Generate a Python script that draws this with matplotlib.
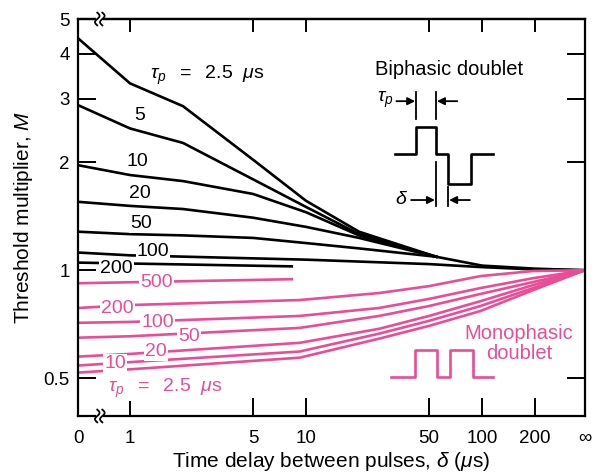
import numpy as np
import matplotlib
matplotlib.use("Agg")
import matplotlib.pyplot as plt
from matplotlib.ticker import NullLocator, FixedLocator, FixedFormatter

plt.rcParams['font.family'] = ['Liberation Sans', 'DejaVu Sans']
plt.rcParams['mathtext.fontset'] = 'custom'
plt.rcParams['mathtext.rm'] = 'Liberation Sans'
plt.rcParams['mathtext.it'] = 'Liberation Sans:italic'

inf = np.inf

# where "0" and "infinity" sit on the broken log axis
X_ZERO = 0.506
X_INF = 385.0

# biphasic doublet curves (black), delay in us -> threshold multiplier M
bi_x = [0, 1, 2, 5, 10, 20, 55]
bi_2_5_x = [0, 1, 2, 5, 10, 20, 55, 100, 200, inf]
bi_2_5 = [4.42, 3.31, 2.86, 2.03, 1.56, 1.28, 1.09, 1.03, 1.01, 1.0]
bi_5 = [2.88, 2.48, 2.26, 1.79, 1.50, 1.26, 1.09]
bi_10 = [1.96, 1.84, 1.77, 1.63, 1.45, 1.25, 1.09]
bi_20 = [1.55, 1.51, 1.48, 1.40, 1.32, 1.23, 1.09]
bi_50 = [1.28, 1.26, 1.25, 1.23, 1.19, 1.15, 1.09]
bi_100_x = [0, 1, 10, 50, 100, 200, inf]
bi_100 = [1.12, 1.10, 1.07, 1.04, 1.02, 1.005, 1.0]
bi_200_x = [0, 8.3]
bi_200 = [1.05, 1.025]

# monophasic doublet curves (magenta)
mono_x = [0, 1, 9.2, 26, 50, 98, 195, inf]
mono_200 = [0.785, 0.80, 0.826, 0.864, 0.903, 0.963, 0.995, 1.0]
mono_100 = [0.714, 0.718, 0.746, 0.785, 0.832, 0.892, 0.95, 1.0]
mono_50 = [0.649, 0.655, 0.691, 0.746, 0.795, 0.859, 0.927, 1.0]
mono_20 = [0.575, 0.585, 0.628, 0.687, 0.746, 0.82, 0.909, 1.0]
mono_10 = [0.543, 0.555, 0.594, 0.666, 0.723, 0.795, 0.892, 1.0]
mono_2_5 = [0.519, 0.53, 0.571, 0.645, 0.70, 0.77, 0.88, 1.0]
mono_500_x = [0, 8.3]
mono_500 = [0.92, 0.944]

x_tick_vals = [0, 1, 5, 10, 50, 100, 200, inf]
x_tick_labels = ['0', '1', '5', '10', '50', '100', '200', '\u221e']
y_tick_vals = [0.5, 1, 2, 3, 4, 5]
y_tick_labels = ['0.5', '1', '2', '3', '4', '5']

PINK = '#EC4B95'


def xpos(vals):
    out = []
    for v in vals:
        if v == 0:
            out.append(X_ZERO)
        elif v == inf:
            out.append(X_INF)
        else:
            out.append(v)
    return out


fig = plt.figure(figsize=(5.95, 4.76), dpi=100)
ax = fig.add_axes([78 / 595, 1 - 416 / 476, 507 / 595, 397 / 476])
ax.set_xscale('log')
ax.set_yscale('log')
ax.set_xlim(X_ZERO, X_INF)
ax.set_ylim(0.393, 5.0)

lw = 1.9
ax.plot(xpos(bi_2_5_x), bi_2_5, color='black', lw=lw)
for m in [bi_5, bi_10, bi_20, bi_50]:
    ax.plot(xpos(bi_x), m, color='black', lw=lw)
ax.plot(xpos(bi_100_x), bi_100, color='black', lw=lw)
ax.plot(xpos(bi_200_x), bi_200, color='black', lw=lw)

for m in [mono_200, mono_100, mono_50, mono_20, mono_10, mono_2_5]:
    ax.plot(xpos(mono_x), m, color=PINK, lw=lw)
ax.plot(xpos(mono_500_x), mono_500, color=PINK, lw=lw)

# curve labels (white box cuts the line like in the print)
box = dict(facecolor='white', edgecolor='none', pad=0.8)
lab_kw = dict(fontsize=14, ha='center', va='center', bbox=box, zorder=5)
ax.text(2.74, 3.48, r'$\tau_p\ \ =\ \ 2.5\ \ \mu$s', color='black', **lab_kw)
ax.text(1.14, 2.70, '5', color='black', **lab_kw)
ax.text(1.10, 2.01, '10', color='black', **lab_kw)
ax.text(1.13, 1.63, '20', color='black', **lab_kw)
ax.text(1.15, 1.35, '50', color='black', **lab_kw)
ax.text(1.35, 1.13, '100', color='black', **lab_kw)
ax.text(0.833, 1.013, '200', color='black', **lab_kw)
ax.text(1.42, 0.927, '500', color=PINK, **lab_kw)
ax.text(0.844, 0.785, '200', color=PINK, **lab_kw)
ax.text(1.44, 0.714, '100', color=PINK, **lab_kw)
ax.text(2.16, 0.653, '50', color=PINK, **lab_kw)
ax.text(1.41, 0.594, '20', color=PINK, **lab_kw)
ax.text(0.82, 0.55, '10', color=PINK, **lab_kw)
ax.text(1.58, 0.469, r'$\tau_p\ \ =\ \ 2.5\ \ \mu$s', color=PINK, **lab_kw)

# ticks
ax.xaxis.set_major_locator(FixedLocator(xpos(x_tick_vals)))
ax.xaxis.set_major_formatter(FixedFormatter(x_tick_labels))
ax.xaxis.set_minor_locator(NullLocator())
ax.yaxis.set_major_locator(FixedLocator(y_tick_vals))
ax.yaxis.set_major_formatter(FixedFormatter(y_tick_labels))
ax.yaxis.set_minor_locator(NullLocator())
ax.tick_params(axis='x', direction='in', length=13, width=1.4, labelsize=13.5, pad=10)
ax.tick_params(axis='y', direction='in', length=13, width=1.4, labelsize=13.5, pad=6,
               left=True, right=True)

sec = ax.secondary_xaxis('top')
sec.xaxis.set_major_locator(FixedLocator(xpos(x_tick_vals[1:-1])))
sec.xaxis.set_minor_locator(NullLocator())
sec.tick_params(direction='in', length=9.5, width=1.4, labeltop=False)
sec.spines['top'].set_linewidth(1.6)

for s in ax.spines.values():
    s.set_linewidth(1.6)

ax.set_xlabel(r'Time delay between pulses, $\delta$ ($\mu$s)', fontsize=15, labelpad=2)
ax.set_ylabel(r'Threshold multiplier, $M$', fontsize=15, labelpad=6)

# axis break marks
T = ax.transAxes
t = np.linspace(-1, 1, 30)
for y0 in [0.0, 1.0]:
    ax.add_patch(plt.Rectangle((0.036, y0 - 0.006), 0.014, 0.012, transform=T,
                               facecolor='white', edgecolor='none', clip_on=False, zorder=6))
    for x0 in [0.038, 0.048]:
        ax.plot(x0 + 0.0045 * np.sin(np.pi * t), y0 + 0.016 * t, color='black', lw=1.3,
                transform=T, clip_on=False, zorder=7)

# biphasic doublet schematic
ax.text(0.732, 0.872, 'Biphasic doublet', transform=T, fontsize=14.5, ha='center', va='center')
ax.plot([0.625, 0.667, 0.667, 0.706, 0.706, 0.730, 0.730, 0.775, 0.775, 0.819],
        [0.660, 0.660, 0.728, 0.728, 0.660, 0.660, 0.584, 0.584, 0.660, 0.660],
        color='black', lw=1.9, transform=T)
ax.plot([0.667, 0.667], [0.748, 0.816], color='black', lw=1.3, transform=T)
ax.plot([0.706, 0.706], [0.748, 0.816], color='black', lw=1.3, transform=T)
ax.plot([0.706, 0.706], [0.529, 0.640], color='black', lw=1.3, transform=T)
ax.plot([0.730, 0.730], [0.529, 0.577], color='black', lw=1.3, transform=T)
arr = dict(arrowstyle='-|>', color='black', lw=1.3, mutation_scale=11, shrinkA=0, shrinkB=0)
ax.annotate('', xy=(0.665, 0.793), xytext=(0.628, 0.793), xycoords=T, arrowprops=arr)
ax.annotate('', xy=(0.708, 0.793), xytext=(0.748, 0.793), xycoords=T, arrowprops=arr)
ax.annotate('', xy=(0.704, 0.544), xytext=(0.657, 0.544), xycoords=T, arrowprops=arr)
ax.annotate('', xy=(0.732, 0.544), xytext=(0.773, 0.544), xycoords=T, arrowprops=arr)
ax.text(0.622, 0.795, r'$\tau_p$', transform=T, fontsize=14, ha='right', va='center')
ax.text(0.650, 0.546, r'$\delta$', transform=T, fontsize=14, ha='right', va='center')

# monophasic doublet schematic
ax.plot([0.617, 0.665, 0.665, 0.708, 0.708, 0.734, 0.734, 0.779, 0.779, 0.819],
        [0.098, 0.098, 0.166, 0.166, 0.098, 0.098, 0.166, 0.166, 0.098, 0.098],
        color=PINK, lw=1.9, transform=T)
ax.text(0.870, 0.182, 'Monophasic\ndoublet', transform=T, fontsize=14.5, color=PINK,
        ha='center', va='center', linespacing=1.05)

fig.savefig('out.png', dpi=100)
